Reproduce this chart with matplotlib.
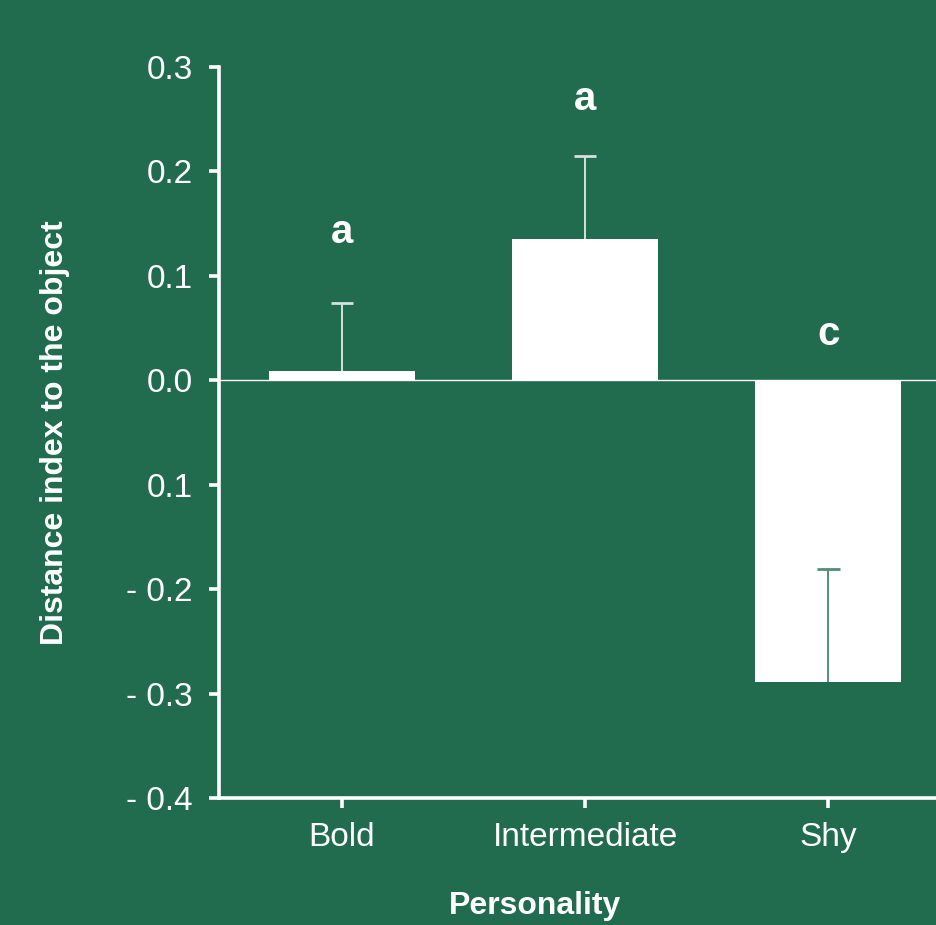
import matplotlib.pyplot as plt

# ======================
# Data
# ======================
groups = ["Bold", "Intermediate", "Shy"]
means = [0.009, 0.135, -0.289]
err_up = [0.065, 0.080, 0.108]     # error bar length (drawn upward only)
letters = ["a", "a", "c"]
letter_y = [0.142, 0.269, 0.044]
ytick_vals = [0.3, 0.2, 0.1, 0.0, -0.1, -0.2, -0.3, -0.4]
ytick_text = ["0.3", "0.2", "0.1", "0.0", "0.1", "- 0.2", "- 0.3", "- 0.4"]

BG = "#216B4F"
plt.rcParams['font.family'] = ['Liberation Sans', 'DejaVu Sans']

fig = plt.figure(figsize=(9.36, 9.25), dpi=100, facecolor=BG)
ax = fig.add_axes([0.234, 0.1373, 0.766, 0.7903], facecolor=BG)

x = list(range(len(groups)))
ax.axhline(0, color="white", lw=1.0, zorder=1)
ax.bar(x, means, width=0.6, color="white", zorder=2)

# error bars: only upward, cap on top only
cap = 0.047
for i, (m, e) in enumerate(zip(means, err_up)):
    col = "#d3e3db" if m >= 0 else "#4f8f76"
    ax.vlines(i, m, m + e, color=col, lw=1.4, zorder=3)
    ax.hlines(m + e, i - cap, i + cap, color=col, lw=2.0, zorder=3)

for i, (t, y) in enumerate(zip(letters, letter_y)):
    ax.text(i, y, t, color="white", fontsize=29, fontweight="bold",
            ha="center", va="center")

ax.set_xlim(-0.506, 2.444)
ax.set_ylim(-0.4, 0.3)
ax.set_xticks(x)
ax.set_xticklabels(groups)
ax.set_yticks(ytick_vals)
ax.set_yticklabels(ytick_text)

for s in ["top", "right"]:
    ax.spines[s].set_visible(False)
for s in ["left", "bottom"]:
    ax.spines[s].set_color("white")
    ax.spines[s].set_linewidth(2.6)
ax.tick_params(colors="white", labelsize=24, width=2.6, length=7, pad=12)
ax.tick_params(axis="x", pad=10)

ax.set_ylabel("Distance index to the object", color="white", fontsize=23,
              fontweight="bold", labelpad=40)
fig.text(535 / 936, 1 - 906 / 925, "Personality", color="white", fontsize=23,
         fontweight="bold", ha="center", va="center")

fig.savefig("out.png", dpi=100, facecolor=BG)
